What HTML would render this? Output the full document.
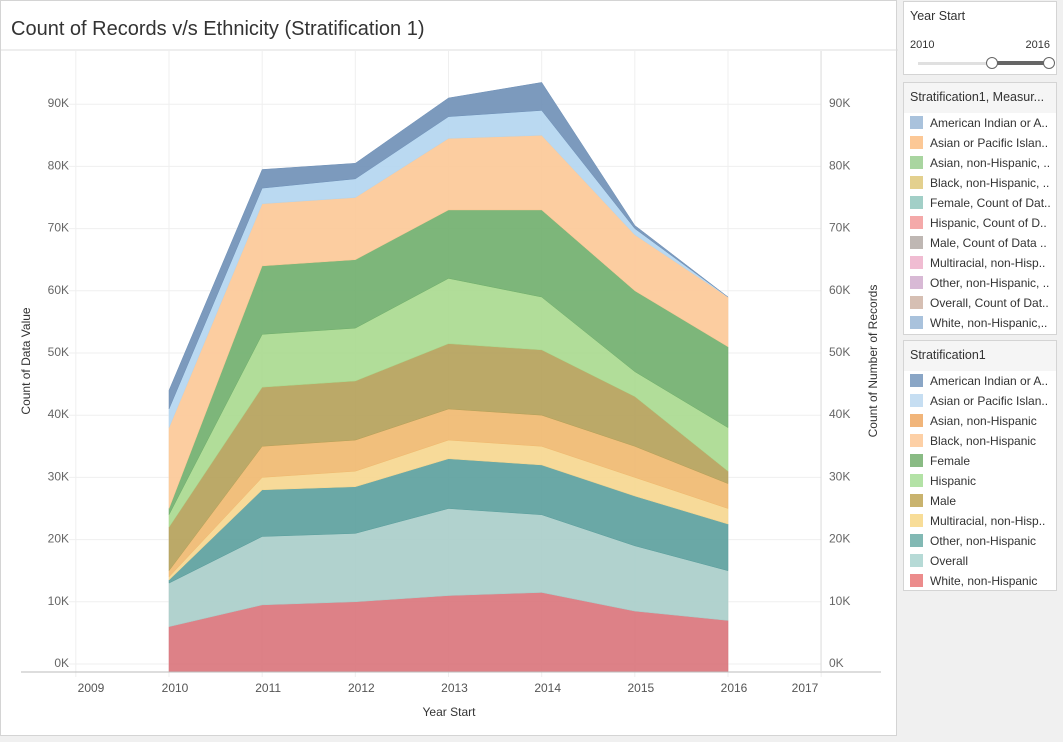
<!DOCTYPE html>
<html><head><meta charset="utf-8"><style>
body{margin:0;width:1063px;height:740px;background:#f0f0f0;font-family:"Liberation Sans",sans-serif;overflow:hidden;position:relative}
.panel{position:absolute;background:#fff;border:1px solid #d4d4d4;box-sizing:border-box}
.lg{font-size:12px;color:#333;position:absolute;left:6px;white-space:nowrap}
.sw{display:inline-block;width:13px;height:13px;vertical-align:-2px;margin-right:7px}
.hd{background:#f5f5f5;font-size:12.5px;color:#333;padding:7px 6px;height:16px}
</style></head><body>
<div class="panel" style="left:0;top:0;width:897px;height:736px">
<svg id="chart" width="897" height="736"></svg>
</div>
<div class="panel" style="left:903px;top:1px;width:154px;height:74px">
<div class="hd" style="background:#fff">Year Start</div>
<div style="position:absolute;left:6px;top:37px;font-size:11px;color:#333">2010</div>
<div style="position:absolute;right:6px;top:37px;font-size:11px;color:#333">2016</div>
<div style="position:absolute;left:14px;top:60px;width:130px;height:3px;background:#e0e0e0"></div>
<div style="position:absolute;left:86px;top:59px;width:58px;height:4px;background:#666"></div>
<div style="position:absolute;left:82px;top:55px;width:10px;height:10px;border:1px solid #666;border-radius:50%;background:#fff"></div>
<div style="position:absolute;left:139px;top:55px;width:10px;height:10px;border:1px solid #666;border-radius:50%;background:#fff"></div>
</div>
<div class="panel" id="lg1" style="left:903px;top:82px;width:154px;height:253px">
<div class="hd">Stratification1, Measur...</div>
</div>
<div class="panel" id="lg2" style="left:903px;top:340px;width:154px;height:251px">
<div class="hd">Stratification1</div>
</div>
<script>
const years=[2010,2011,2012,2013,2014,2015,2016];
const tops=[
[6,9.5,10,11,11.5,8.5,7],
[13,20.5,21,25,24,19,15],
[13.5,28,28.5,33,32,27,22.5],
[14,30,31,36,35,30,25],
[15,35,36,41,40,35,29],
[22,44.5,45.5,51.5,50.5,43,31],
[24,53,54,62,59,47,38],
[25,64,65,73,73,60,51],
[38,74,75,84.5,85,69,59],
[41,76.5,78,88,89,70,59],
[44,79.5,80.5,91,93.5,70.5,59]];
const colors=["#d9737a","#a9cdc9","#5a9e9c","#f6d68e","#f0b86e","#b4a058","#a9d98e","#6fae6b","#fcc896","#b3d5ef","#6e8fb6"];
const yTicks=[0,10,20,30,40,50,60,70,80,90];
const xTicks=[2009,2010,2011,2012,2013,2014,2015,2016,2017];
const leg1=["American Indian or A..","Asian or Pacific Islan..","Asian, non-Hispanic, ..","Black, non-Hispanic, ..","Female, Count of Dat..","Hispanic, Count of D..","Male, Count of Data ..","Multiracial, non-Hisp..","Other, non-Hispanic, ..","Overall, Count of Dat..","White, non-Hispanic,.."];
const leg1c=["#a9c2dc","#fcc896","#a9d5a0","#e3d08e","#a2cfc7","#f4a9a9","#bfb7b3","#f0bcd2","#d8b9d5","#d6bfb3","#a9c2dc"];
const leg2=["American Indian or A..","Asian or Pacific Islan..","Asian, non-Hispanic","Black, non-Hispanic","Female","Hispanic","Male","Multiracial, non-Hisp..","Other, non-Hispanic","Overall","White, non-Hispanic"];
const leg2c=["#8aa6c6","#c6def2","#f1b57a","#fdd0a6","#89bb84","#b3e2a6","#c9b36e","#f8dd98","#82b9b4","#b6dad6","#ec8c8c"];
const X=y=>168+(y-2010)*93.17, Y=v=>663-v*6.22;
const svg=document.getElementById('chart'),NS="http://www.w3.org/2000/svg";
function el(t,a){const e=document.createElementNS(NS,t);for(const k in a)e.setAttribute(k,a[k]);svg.appendChild(e);return e;}
let t=el('text',{x:10,y:34,'font-size':20,fill:'#333'});t.textContent="Count of Records v/s Ethnicity (Stratification 1)";

el('line',{x1:0,y1:49,x2:897,y2:49,stroke:'#ddd'});
yTicks.forEach(v=>{el('line',{x1:68,x2:820,y1:Y(v),y2:Y(v),stroke:'#efefef'});
 let a=el('text',{x:68,y:Y(v)+3,'font-size':12,fill:'#666','text-anchor':'end'});a.textContent=v+"K";
 let b=el('text',{x:828,y:Y(v)+3,'font-size':12,fill:'#666'});b.textContent=v+"K";});
xTicks.forEach(y=>{el('line',{x1:X(y),x2:X(y),y1:50,y2:676,stroke:'#efefef'});
 let lx=Math.min(Math.max(X(y)+6,90),804);let a=el('text',{x:lx,y:691,'font-size':12,fill:'#555','text-anchor':'middle'});a.textContent=y;});
tops.forEach((row,i)=>{const prev=i?tops[i-1]:null;let d="";
 years.forEach((y,j)=>{d+=(j?"L":"M")+X(y)+","+Y(row[j]);});
 for(let j=years.length-1;j>=0;j--){d+="L"+X(years[j])+","+(prev?Y(prev[j]):671);}
 const p=el('path',{d:d+"Z",fill:colors[i],stroke:colors[i],'stroke-width':0.5,'fill-opacity':0.9});
 });
el('line',{x1:20,x2:880,y1:671,y2:671,stroke:'#bbb'});
el('line',{x1:820,x2:820,y1:50,y2:671,stroke:'#ddd'});
let a1=el('text',{x:0,y:0,'font-size':12,fill:'#333','text-anchor':'middle',transform:'translate(29,360) rotate(-90)'});a1.textContent="Count of Data Value";
let a2=el('text',{x:0,y:0,'font-size':12,fill:'#333','text-anchor':'middle',transform:'translate(876,360) rotate(-90)'});a2.textContent="Count of Number of Records";
let a3=el('text',{x:448,y:715,'font-size':12,fill:'#333','text-anchor':'middle'});a3.textContent="Year Start";
function legend(id,labels,cols,top){const box=document.getElementById(id);labels.forEach((l,i)=>{const d=document.createElement('div');d.className='lg';d.style.top=(top+i*20)+'px';
 d.innerHTML='<span class="sw" style="background:'+cols[i]+'"></span>'+l;
 
 
 box.appendChild(d);});}
legend('lg1',leg1,leg1c,33);legend('lg2',leg2,leg2c,33);
</script>
</body></html>
